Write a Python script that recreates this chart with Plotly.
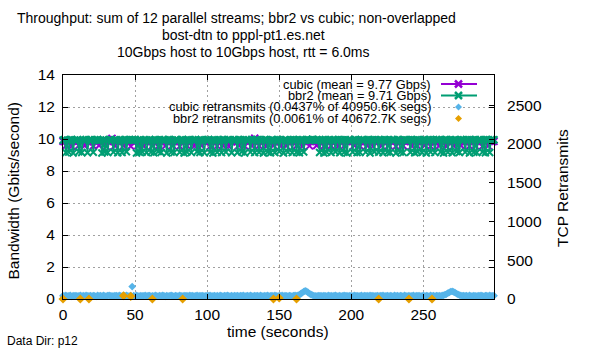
import plotly.graph_objects as go

# ---------------- data ----------------
time_s = list(range(0, 300))

cubic_gbps = [
    9.86, 9.84, 9.58, 9.88, 9.83, 9.87, 9.55, 9.85, 9.89, 9.82, 9.86, 9.60, 9.84, 9.88, 9.85, 9.57, 9.87, 9.83, 9.86, 9.84,
    9.88, 9.56, 9.85, 9.87, 9.83, 9.59, 9.86, 9.84, 9.89, 9.85, 9.54, 9.87, 9.83, 9.86, 10.04, 9.85, 9.58, 9.88, 9.84, 9.86,
    9.83, 9.87, 9.57, 9.85, 9.88, 9.84, 9.86, 9.55, 9.89, 9.83, 9.86, 9.85, 9.59, 9.87, 9.84, 9.88, 9.56, 9.85, 9.86, 9.83,
    9.87, 9.84, 9.58, 9.86, 9.88, 9.85, 9.53, 9.87, 9.84, 9.86, 9.89, 9.57, 9.85, 9.83, 9.87, 9.86, 9.60, 9.84, 9.88, 9.85,
    9.86, 9.55, 9.84, 9.87, 9.85, 9.88, 9.58, 9.83, 9.86, 9.84, 9.87, 9.56, 9.89, 9.85, 9.86, 9.83, 9.59, 9.87, 9.84, 9.86,
    9.85, 9.88, 9.54, 9.86, 9.84, 9.87, 9.83, 9.57, 9.86, 9.89, 9.85, 9.58, 9.84, 9.87, 9.86, 9.55, 9.88, 9.83, 9.85, 9.87,
    9.84, 9.86, 9.59, 9.88, 9.85, 9.83, 9.56, 9.87, 9.84, 9.86, 9.88, 9.57, 9.85, 10.05, 9.86, 9.83, 9.58, 9.87, 9.85, 9.84,
    9.87, 9.55, 9.86, 9.84, 9.88, 9.85, 9.59, 9.83, 9.86, 9.87, 9.84, 9.56, 9.88, 9.85, 9.86, 9.57, 9.84, 9.87, 9.83, 9.86,
    9.85, 9.88, 9.58, 9.84, 9.86, 9.87, 9.54, 9.85, 9.83, 9.88, 9.86, 9.57, 9.84, 9.87, 9.85, 9.86, 9.59, 9.83, 9.88, 9.84,
    9.86, 9.56, 9.87, 9.85, 9.84, 9.88, 9.58, 9.86, 9.83, 9.87, 9.85, 9.55, 9.86, 9.88, 9.84, 9.57, 9.87, 9.85, 9.86, 9.83,
    9.88, 9.84, 9.59, 9.86, 9.87, 9.85, 9.56, 9.83, 9.88, 9.86, 9.84, 9.58, 9.87, 9.85, 9.86, 9.54, 9.88, 9.84, 9.85, 9.87,
    9.83, 9.57, 9.86, 9.88, 9.85, 9.84, 9.59, 9.87, 9.86, 9.83, 9.88, 9.55, 9.85, 9.87, 9.84, 9.86, 9.58, 9.88, 9.85, 9.86,
    9.87, 9.84, 9.56, 9.85, 9.88, 9.86, 9.57, 9.83, 9.87, 9.85, 9.86, 9.59, 9.84, 9.88, 9.85, 9.55, 9.87, 9.86, 9.83, 9.84,
    9.86, 9.58, 9.88, 9.85, 9.84, 9.87, 9.54, 9.86, 9.85, 9.88, 9.83, 9.57, 9.86, 9.87, 9.84, 9.85, 9.59, 9.88, 9.86, 9.84,
    9.85, 9.87, 9.56, 9.84, 9.86, 9.88, 9.58, 9.85, 9.83, 9.87, 9.86, 9.55, 9.88, 9.84, 9.85, 9.57, 9.86, 9.87, 9.84, 9.85,
]

bbr2_gbps = [
    9.93, 9.96, 9.15, 9.92, 9.18, 9.95, 9.97, 9.13, 9.94, 9.90, 9.96, 9.20, 9.93, 9.16, 9.95, 9.91, 9.97, 9.14, 9.94, 9.96,
    9.92, 9.17, 9.95, 9.93, 9.97, 9.90, 9.94, 9.12, 9.96, 9.19, 9.93, 9.15, 9.95, 9.97, 9.92, 9.18, 9.94, 9.96, 9.14, 9.93,
    9.95, 9.16, 9.91, 9.97, 9.20, 9.94, 9.96, 9.93, 9.95, 9.92, 9.97, 9.13, 9.94, 9.17, 9.96, 9.19, 9.93, 9.95, 9.15, 9.91,
    9.96, 9.18, 9.94, 9.14, 9.97, 9.93, 9.21, 9.95, 9.16, 9.92, 9.96, 9.94, 9.12, 9.97, 9.95, 9.18, 9.93, 9.15, 9.96, 9.94,
    9.91, 9.17, 9.95, 9.97, 9.13, 9.94, 9.19, 9.96, 9.92, 9.15, 9.95, 9.93, 9.97, 9.20, 9.94, 9.16, 9.96, 9.91, 9.14, 9.95,
    9.93, 9.97, 9.18, 9.94, 9.12, 9.96, 9.92, 9.17, 9.95, 9.93, 9.15, 9.97, 9.94, 9.19, 9.96, 9.91, 9.95, 9.14, 9.93, 9.96,
    9.94, 9.16, 9.97, 9.92, 9.20, 9.95, 9.13, 9.96, 9.93, 9.94, 9.18, 9.97, 9.91, 9.15, 9.95, 9.96, 9.17, 9.93, 9.94, 9.12,
    9.97, 9.95, 9.19, 9.92, 9.14, 9.96, 9.94, 9.16, 9.93, 9.97, 9.21, 9.95, 9.91, 9.13, 9.96, 9.94, 9.18, 9.92, 9.95, 9.15,
    9.97, 9.93, 9.17, 9.96, 9.14, 9.94, 9.95, 9.19, 9.92, 9.97, 9.96, 9.94, 9.93, 9.98, 9.95, 9.91, 9.96, 9.94, 9.16, 9.93,
    9.95, 9.13, 9.97, 9.18, 9.94, 9.96, 9.15, 9.92, 9.95, 9.20, 9.93, 9.97, 9.14, 9.96, 9.94, 9.17, 9.95, 9.12, 9.93, 9.96,
    9.91, 9.19, 9.95, 9.97, 9.15, 9.94, 9.16, 9.96, 9.93, 9.95, 9.18, 9.92, 9.97, 9.13, 9.94, 9.96, 9.20, 9.95, 9.93, 9.17,
    9.96, 9.94, 9.14, 9.97, 9.92, 9.18, 9.95, 9.16, 9.93, 9.96, 9.94, 9.12, 9.97, 9.95, 9.19, 9.91, 9.15, 9.96, 9.94, 9.93,
    9.95, 9.17, 9.97, 9.93, 9.14, 9.96, 9.20, 9.94, 9.92, 9.16, 9.95, 9.97, 9.13, 9.93, 9.96, 9.18, 9.94, 9.95, 9.15, 9.97,
    9.92, 9.96, 9.19, 9.94, 9.12, 9.95, 9.97, 9.17, 9.93, 9.96, 9.14, 9.94, 9.95, 9.21, 9.92, 9.16, 9.97, 9.93, 9.95, 9.18,
    9.94, 9.96, 9.13, 9.95, 9.93, 9.17, 9.97, 9.15, 9.94, 9.96, 9.92, 9.19, 9.95, 9.14, 9.97, 9.93, 9.16, 9.96, 9.94, 9.95,
]

cubic_retrans = [
    42, 38, 45, 36, 40, 47, 35, 43, 39, 44, 37, 41, 46, 38, 42, 36, 45, 40, 39, 43,
    37, 44, 41, 35, 46, 39, 42, 38, 45, 40, 36, 43, 47, 39, 41, 37, 44, 42, 38, 45,
    40, 36, 43, 39, 46, 41, 37, 44, 160, 42, 38, 45, 40, 36, 43, 39, 41, 46, 37, 42,
    44, 38, 41, 36, 45, 40, 37, 43, 39, 46, 42, 35, 44, 38, 41, 47, 39, 36, 43, 40,
    38, 45, 41, 37, 44, 39, 42, 36, 46, 40, 43, 38, 41, 45, 37, 42, 39, 44, 36, 41,
    43, 39, 46, 37, 41, 44, 38, 42, 35, 45, 40, 37, 43, 39, 46, 41, 36, 44, 38, 42,
    40, 44, 37, 42, 39, 45, 36, 41, 43, 38, 46, 40, 37, 44, 39, 42, 36, 45, 41, 38,
    43, 39, 45, 37, 41, 44, 38, 46, 40, 36, 42, 39, 45, 37, 43, 41, 38, 44, 40, 36,
    42, 45, 39, 48, 55, 68, 82, 95, 105, 98, 84, 70, 58, 49, 43, 40, 37, 44, 39, 42,
    38, 44, 41, 36, 45, 39, 43, 37, 42, 46, 40, 38, 44, 36, 41, 45, 39, 43, 37, 42,
    40, 36, 45, 39, 43, 38, 41, 46, 37, 44, 40, 42, 36, 45, 39, 43, 38, 41, 44, 37,
    42, 39, 45, 37, 41, 44, 38, 43, 40, 36, 46, 39, 42, 37, 44, 41, 38, 45, 40, 36,
    43, 38, 41, 45, 37, 42, 39, 44, 36, 40, 46, 38, 43, 41, 37, 45, 39, 42, 36, 44,
    40, 43, 38, 45, 48, 56, 64, 75, 86, 94, 99, 91, 82, 70, 60, 51, 46, 41, 44, 39,
    42, 37, 45, 40, 38, 44, 41, 36, 43, 39, 46, 40, 37, 44, 42, 38, 45, 41, 39, 43,
]

bbr2_retrans_time = [0, 12, 18, 42, 47, 62, 83, 146, 150, 162, 219, 240, 256]
bbr2_retrans = [0, 0, 0, 42, 34, 0, 0, 0, 12, 0, 0, 0, 0]

legend_labels = [
    "cubic (mean = 9.77 Gbps)",
    "bbr2 (mean = 9.71 Gbps)",
    "cubic retransmits (0.0437% of 40950.6K segs)",
    "bbr2 retransmits (0.0061% of 40672.7K segs)",
]
title_lines = [
    "Throughput: sum of 12 parallel streams; bbr2 vs cubic; non-overlapped",
    "bost-dtn to pppl-pt1.es.net",
    "10Gbps host to 10Gbps host, rtt = 6.0ms",
]
x_ticks = [0, 50, 100, 150, 200, 250]
y_ticks = [0, 2, 4, 6, 8, 10, 12, 14]
y2_ticks = [0, 500, 1000, 1500, 2000, 2500]

# ---------------- styling / layout ----------------
PURPLE = "#9400d3"
GREEN = "#009e73"
BLUE = "#56b4e9"
ORANGE = "#e69f00"
FONT = "Arial"

W, H = 600, 350
L, R, T, B = 63, 106, 75, 51
PW, PH = W - L - R, H - T - B


def px(xp):
    return (xp - L) / PW


def py(yp):
    return 1 - (yp - T) / PH


fig = go.Figure()

fig.add_trace(go.Scatter(
    x=time_s, y=cubic_gbps, mode="lines+markers", name=legend_labels[0],
    line=dict(color=PURPLE, width=1.5),
    marker=dict(symbol="x-thin", size=7, color=PURPLE, line=dict(color=PURPLE, width=2)),
    cliponaxis=False, showlegend=False,
))
fig.add_trace(go.Scatter(
    x=time_s, y=bbr2_gbps, mode="lines+markers", name=legend_labels[1],
    line=dict(color=GREEN, width=1.5),
    marker=dict(symbol="x-thin", size=7, color=GREEN, line=dict(color=GREEN, width=2)),
    cliponaxis=False, showlegend=False,
))
fig.add_trace(go.Scatter(
    x=time_s, y=cubic_retrans, mode="markers", name=legend_labels[2], yaxis="y2",
    marker=dict(symbol="diamond", size=6, color=BLUE),
    cliponaxis=False, showlegend=False,
))
fig.add_trace(go.Scatter(
    x=bbr2_retrans_time, y=bbr2_retrans, mode="markers", name=legend_labels[3], yaxis="y2",
    marker=dict(symbol="diamond", size=7, color=ORANGE),
    cliponaxis=False, showlegend=False,
))

axis_common = dict(
    showline=True, linecolor="black", linewidth=1,
    ticks="inside", ticklen=5, tickcolor="black",
    tickfont=dict(family=FONT, size=15.5, color="black"),
    zeroline=False,
)

fig.update_layout(
    width=W, height=H,
    margin=dict(l=L, r=R, t=T, b=B),
    paper_bgcolor="white", plot_bgcolor="white",
    showlegend=False,
    font=dict(family=FONT),
    xaxis=dict(
        range=[0, 299], tickvals=x_ticks, mirror="ticks",
        showgrid=True, gridcolor="#a0a0a0", griddash="2px,3px", gridwidth=1,
        ticklabelstandoff=1,
        **axis_common,
    ),
    yaxis=dict(
        range=[0, 14], tickvals=y_ticks, mirror="ticks",
        showgrid=True, gridcolor="#a0a0a0", griddash="2px,3px", gridwidth=1,
        ticklabelstandoff=4,
        **axis_common,
    ),
    yaxis2=dict(
        range=[0, 2890], tickvals=y2_ticks, overlaying="y", side="right",
        showgrid=False, ticklabelstandoff=9,
        **axis_common,
    ),
)

ann = []
title_y = [18, 35, 52]
title_x = [236, 243, 243.5]
for txt, xx, yy in zip(title_lines, title_x, title_y):
    ann.append(dict(text=txt, x=px(xx), y=py(yy), xref="paper", yref="paper",
                    xanchor="center", yanchor="middle", showarrow=False,
                    font=dict(family=FONT, size=14, color="black")))

ann.append(dict(text="time (seconds)", x=px(278), y=py(331), xref="paper", yref="paper",
                xanchor="center", yanchor="middle", showarrow=False,
                font=dict(family=FONT, size=15.5, color="black")))
ann.append(dict(text="Bandwidth (Gbits/second)", x=px(12.5), y=py(191), xref="paper", yref="paper",
                xanchor="center", yanchor="middle", showarrow=False, textangle=-90,
                font=dict(family=FONT, size=15.5, color="black")))
ann.append(dict(text="TCP Retransmits", x=px(562), y=py(188), xref="paper", yref="paper",
                xanchor="center", yanchor="middle", showarrow=False, textangle=-90,
                font=dict(family=FONT, size=15.5, color="black")))
ann.append(dict(text="Data Dir: p12", x=px(5), y=py(341), xref="paper", yref="paper",
                xanchor="left", yanchor="middle", showarrow=False,
                font=dict(family=FONT, size=12, color="black")))

# legend (gnuplot style: text right-aligned, sample to the right)
leg_y = [84, 95.5, 107, 118.5]
leg_colors = [PURPLE, GREEN, BLUE, ORANGE]
shapes = []
for i, (lab, yy, col) in enumerate(zip(legend_labels, leg_y, leg_colors)):
    ann.append(dict(text=lab, x=px(433), y=py(yy), xref="paper", yref="paper",
                    xanchor="right", yanchor="middle", showarrow=False,
                    font=dict(family=FONT, size=12.8, color="black")))
    cy = py(yy)
    d = 3.5
    if i < 2:
        shapes.append(dict(type="line", xref="paper", yref="paper",
                           x0=px(441), x1=px(477), y0=cy, y1=cy,
                           line=dict(color=col, width=2)))
        shapes.append(dict(type="line", xref="paper", yref="paper",
                           x0=px(458.5 - d), x1=px(458.5 + d), y0=py(yy - d), y1=py(yy + d),
                           line=dict(color=col, width=2.5)))
        shapes.append(dict(type="line", xref="paper", yref="paper",
                           x0=px(458.5 - d), x1=px(458.5 + d), y0=py(yy + d), y1=py(yy - d),
                           line=dict(color=col, width=2.5)))
    else:
        path = "M {a} {b} L {c} {e} L {f} {b} L {c} {g} Z".format(
            a=px(458.5 - d), b=py(yy), c=px(458.5), e=py(yy - d), f=px(458.5 + d), g=py(yy + d))
        shapes.append(dict(type="path", xref="paper", yref="paper", path=path,
                           fillcolor=col, line=dict(color=col, width=0)))

fig.update_layout(annotations=ann, shapes=shapes)

fig.write_html("out.html")
